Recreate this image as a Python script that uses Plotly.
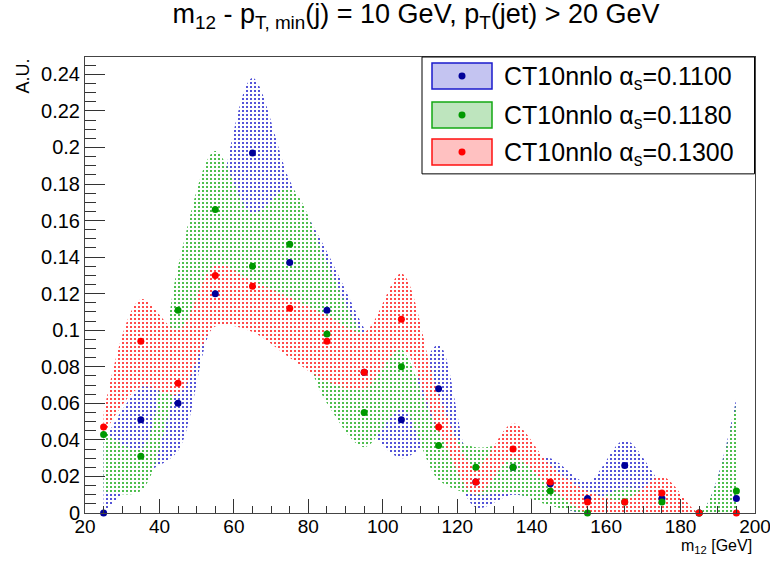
import plotly.graph_objects as go

# ---------------- data ----------------
mass_bins = [25, 35, 45, 55, 65, 75, 85, 95, 105, 115, 125, 135, 145, 155, 165, 175, 185, 195]

labels = ["CT10nnlo α<sub>s</sub>=0.1100", "CT10nnlo α<sub>s</sub>=0.1180", "CT10nnlo α<sub>s</sub>=0.1300"]

as1100_val = [0.0, 0.051, 0.060, 0.120, 0.197, 0.137, 0.111, 0.077, 0.051, 0.068, 0.017, 0.025, 0.016, 0.008, 0.026, 0.008, 0.0, 0.008]
as1100_up = [0.039, 0.069, 0.075, 0.160, 0.238, 0.182, 0.143, 0.101, 0.062, 0.092, 0.022, 0.030, 0.030, 0.017, 0.040, 0.016, 0.0, 0.063]
as1100_lo = [0.0, 0.020, 0.034, 0.104, 0.112, 0.110, 0.095, 0.050, 0.030, 0.040, 0.003, 0.010, 0.005, 0.0, 0.014, 0.0, 0.0, 0.0]

as1180_val = [0.043, 0.031, 0.111, 0.166, 0.135, 0.147, 0.098, 0.055, 0.080, 0.037, 0.025, 0.025, 0.012, 0.0, 0.006, 0.006, 0.0, 0.012]
as1180_up = [0.045, 0.035, 0.135, 0.198, 0.164, 0.178, 0.137, 0.098, 0.090, 0.046, 0.036, 0.037, 0.014, 0.006, 0.014, 0.010, 0.0, 0.060]
as1180_lo = [0.012, 0.012, 0.070, 0.105, 0.105, 0.100, 0.060, 0.036, 0.057, 0.018, 0.010, 0.011, 0.004, 0.0, 0.0, 0.0, 0.0, 0.0]

as1300_val = [0.047, 0.094, 0.071, 0.130, 0.124, 0.112, 0.094, 0.077, 0.106, 0.047, 0.017, 0.035, 0.017, 0.006, 0.006, 0.011, 0.0, 0.0]
as1300_up = [0.055, 0.117, 0.100, 0.136, 0.127, 0.118, 0.108, 0.099, 0.131, 0.065, 0.025, 0.049, 0.026, 0.012, 0.007, 0.020, 0.0, 0.0]
as1300_lo = [0.043, 0.069, 0.065, 0.102, 0.099, 0.085, 0.072, 0.068, 0.090, 0.045, 0.010, 0.030, 0.014, 0.0, 0.0, 0.0, 0.0, 0.0]

y_tickvals = [0, 0.02, 0.04, 0.06, 0.08, 0.1, 0.12, 0.14, 0.16, 0.18, 0.2, 0.22, 0.24]
y_ticktext = ["0", "0.02", "0.04", "0.06", "0.08", "0.1", "0.12", "0.14", "0.16", "0.18", "0.2", "0.22", "0.24"]
x_tickvals = [20, 40, 60, 80, 100, 120, 140, 160, 180, 200]

# ---------------- style ----------------
FONT = "Liberation Sans, Arial, Helvetica, sans-serif"
series = {
    "blue": dict(label=labels[0], val=as1100_val, up=as1100_up, lo=as1100_lo,
                 mcolor="#000099", bcolor="#1a1acc", lfill="rgba(60,60,210,0.30)"),
    "green": dict(label=labels[1], val=as1180_val, up=as1180_up, lo=as1180_lo,
                  mcolor="#009900", bcolor="#13a813", lfill="rgba(40,170,40,0.30)"),
    "red": dict(label=labels[2], val=as1300_val, up=as1300_up, lo=as1300_lo,
                mcolor="#ff0000", bcolor="#ff1010", lfill="rgba(255,50,50,0.30)"),
}


def pattern(color):
    return dict(shape=".", fgcolor=color, bgcolor="white", size=4, solidity=0.2, fillmode="replace")


fig = go.Figure()

# bands: blue bottom, green, red top (opaque pattern background hides the ones below)
for key in ["blue", "green", "red"]:
    s = series[key]
    fig.add_trace(go.Scatter(x=mass_bins, y=s["lo"], mode="lines",
                             line=dict(width=0, shape="spline", smoothing=0.9, color=s["bcolor"]),
                             showlegend=False, hoverinfo="skip"))
    fig.add_trace(go.Scatter(x=mass_bins, y=s["up"], mode="lines",
                             line=dict(width=0, shape="spline", smoothing=0.9, color=s["bcolor"]),
                             fill="tonexty", fillcolor="rgba(0,0,0,0)",
                             fillpattern=pattern(s["bcolor"]),
                             showlegend=False, hoverinfo="skip"))

# points
for key in ["blue", "green", "red"]:
    s = series[key]
    fig.add_trace(go.Scatter(x=mass_bins, y=s["val"], mode="markers", name=s["label"],
                             marker=dict(color=s["mcolor"], size=7, symbol="circle"),
                             showlegend=False, cliponaxis=False))

# ---------------- manual legend (layout shapes + annotations) ----------------
# pixel geometry of the plot area: x 85..755, y 57..513.5
PX0, PX1, PY0, PY1 = 85.0, 755.0, 57.0, 513.5


def px2x(px):
    return (px - PX0) / (PX1 - PX0)


def py2y(py):
    return (PY1 - py) / (PY1 - PY0)


shapes = [dict(type="rect", xref="paper", yref="paper", x0=px2x(422), x1=px2x(754.5), y0=py2y(174), y1=py2y(57),
               line=dict(color="black", width=1), fillcolor="white", layer="above")]
annotations = []
row_centres = [76, 115, 152]
for key, rc in zip(["blue", "green", "red"], row_centres):
    s = series[key]
    shapes.append(dict(type="rect", xref="paper", yref="paper", x0=px2x(432), x1=px2x(492),
                       y0=py2y(rc + 13), y1=py2y(rc - 13), line=dict(color=s["bcolor"], width=1.5),
                       fillcolor=s["lfill"], layer="above"))
    shapes.append(dict(type="circle", xref="paper", yref="paper", x0=px2x(458.5), x1=px2x(465.5),
                       y0=py2y(rc + 3.5), y1=py2y(rc - 3.5), line=dict(color=s["mcolor"], width=0),
                       fillcolor=s["mcolor"], layer="above"))
    annotations.append(dict(text=s["label"], xref="paper", yref="paper", x=px2x(502), y=py2y(rc + 2.5),
                            xanchor="left", yanchor="middle", showarrow=False,
                            font=dict(size=25, family=FONT, color="black")))

annotations += [
    dict(text="A.U.", textangle=-90, xref="paper", yref="paper", x=px2x(22), y=1.0,
         xanchor="center", yanchor="top", showarrow=False, font=dict(size=18, family=FONT)),
    dict(text="m<sub>12</sub> [GeV]", xref="paper", yref="paper", x=px2x(754), y=py2y(547),
         xanchor="right", yanchor="middle", showarrow=False, font=dict(size=16, family=FONT)),
]

fig.update_layout(
    width=770, height=561,
    margin=dict(l=85, r=15, t=57, b=48, pad=0, autoexpand=False),
    paper_bgcolor="white", plot_bgcolor="white",
    font=dict(family=FONT, color="black", size=20),
    showlegend=False,
    title=dict(text="m<sub>12</sub> - p<sub>T, min</sub>(j) = 10 GeV, p<sub>T</sub>(jet) > 20 GeV",
               x=px2x(416), xref="paper", xanchor="center", y=0.975, yref="container", yanchor="middle",
               font=dict(family=FONT, size=27, color="black")),
    xaxis=dict(range=[20, 200], tickvals=x_tickvals, ticks="inside", ticklen=14, tickwidth=1.2,
               tickcolor="#333", showline=True, linecolor="#444", linewidth=1, mirror=True,
               showgrid=False, zeroline=False, ticklabeloverflow="allow", automargin=False,
               ticklabelstandoff=-4,
               minor=dict(dtick=5, tick0=20, ticks="inside", ticklen=7, tickcolor="#333", showgrid=False),
               tickfont=dict(size=19, family=FONT)),
    yaxis=dict(range=[0, 0.2495], tickvals=y_tickvals, ticktext=y_ticktext, ticks="inside", ticklen=20,
               tickwidth=1.2, tickcolor="#333", showline=True, linecolor="#444", linewidth=1, mirror=True,
               showgrid=False, zeroline=False, ticklabeloverflow="allow", automargin=False,
               minor=dict(dtick=0.005, tick0=0, ticks="inside", ticklen=11, tickcolor="#333", showgrid=False),
               tickfont=dict(size=20, family=FONT)),
    shapes=shapes,
    annotations=annotations,
)

fig.write_html("out.html")
